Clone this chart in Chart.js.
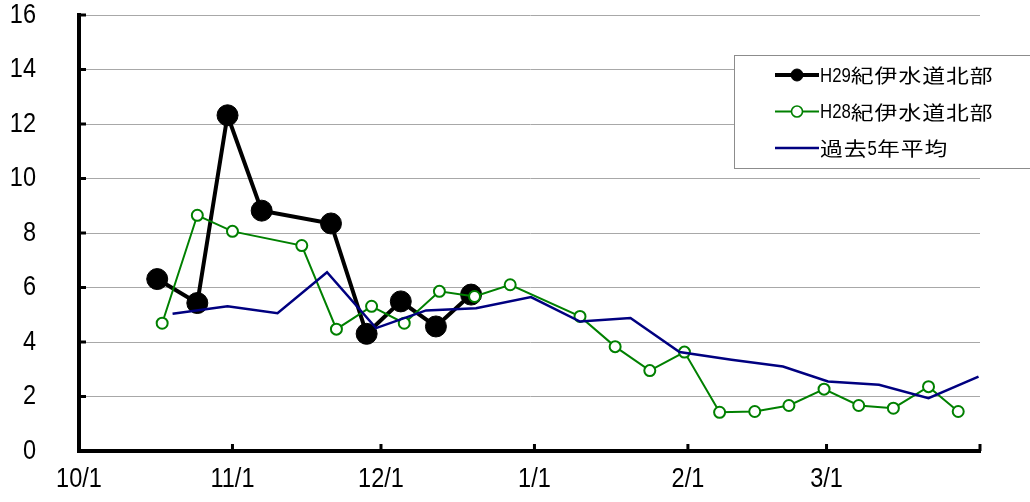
<!DOCTYPE html>
<html><head><meta charset="utf-8">
<script src="https://cdn.jsdelivr.net/npm/chart.js@4.4.1/dist/chart.umd.min.js"></script>
<style>html,body{margin:0;padding:0;background:#fff;overflow:hidden}#wrap{position:relative;width:1030px;height:502px}</style>
</head><body><div id="wrap"><canvas id="c" width="1030" height="502"></canvas></div>
<script>
// ---- data (x = days since 10/1) ----
const tickDays = [0, 31, 61, 92, 123, 151];
const tickLabels = ['10/1', '11/1', '12/1', '1/1', '2/1', '3/1'];
const axisEndDay = 182;
const yMin = 0, yMax = 16, yStep = 2;

const h29Label = 'H29紀伊水道北部';
const h29Days = [15.8, 23.9, 30.0, 36.9, 50.9, 58.1, 65.0, 72.1, 79.2];
const h29Values = [6.31, 5.43, 12.32, 8.82, 8.35, 4.30, 5.49, 4.57, 5.74];

const h28Label = 'H28紀伊水道北部';
const h28Days = [16.8, 23.9, 31.0, 45.0, 52.0, 59.1, 65.7, 72.8, 79.9, 87.1, 101.2, 108.3, 115.3, 122.3, 129.4, 136.5, 143.4, 150.5, 157.5, 164.5, 171.6, 177.6];
const h28Values = [4.69, 8.65, 8.06, 7.54, 4.47, 5.31, 4.69, 5.86, 5.67, 6.10, 4.94, 3.83, 2.95, 3.63, 1.42, 1.45, 1.67, 2.27, 1.67, 1.57, 2.36, 1.45];

const avgLabel = '過去5年平均';
const avgDays = [18.9, 30.0, 40.1, 50.1, 60.0, 70.1, 80.2, 91.3, 101.2, 111.4, 121.3, 131.8, 142.2, 151.3, 161.6, 171.6, 181.7];
const avgValues = [5.04, 5.31, 5.06, 6.56, 4.51, 5.16, 5.24, 5.65, 4.75, 4.88, 3.63, 3.35, 3.10, 2.55, 2.43, 1.94, 2.73];

const pts = (xs, ys) => xs.map((x, i) => ({x, y: ys[i]}));

const SANS = "'Liberation Sans', Arial, sans-serif";
const CJK = "'Noto Sans CJK JP', sans-serif";
const NARROW_SX = 0.84;

function drawMixed(ctx, text, x, y, asciiFont, asciiScale, cjkFont, cjkAdvance, cjkScale) {
  let cx = x;
  for (const ch of text) {
    const ascii = ch.charCodeAt(0) < 256;
    ctx.save();
    ctx.font = ascii ? asciiFont : cjkFont;
    const adv = ascii ? ctx.measureText(ch).width * asciiScale : cjkAdvance;
    ctx.translate(cx, y); ctx.scale(ascii ? asciiScale : cjkScale, 1);
    ctx.fillText(ch, 0, 0);
    ctx.restore();
    cx += adv;
  }
}

// draw the library's own tick labels horizontally condensed
const narrowLabels = {
  id: 'narrowLabels',
  beforeDraw(chart) {
    ['x', 'y'].forEach(id => {
      const s = chart.scales[id];
      if (!s || s.__wrapped) return;
      const orig = s.drawLabels;
      s.drawLabels = function (area) {
        const ctx = this.ctx;
        const of = CanvasRenderingContext2D.prototype.fillText;
        ctx.fillText = function (t, x, y) {
          this.save(); this.translate(x, y); this.scale(NARROW_SX, 1); of.call(this, t, 0, 0); this.restore();
        };
        try { orig.call(this, area); } finally { delete ctx.fillText; }
      };
      s.__wrapped = true;
    });
  }
};

const axisTicks = {
  id: 'axisTicks',
  afterDraw(chart) {
    const {ctx, chartArea: a, scales: {x, y}} = chart;
    ctx.save();
    ctx.strokeStyle = '#000'; ctx.lineWidth = 3;
    y.ticks.forEach(t => {
      const py = y.getPixelForValue(t.value);
      ctx.beginPath(); ctx.moveTo(a.left, py); ctx.lineTo(a.left + 7, py); ctx.stroke();
    });
    [...tickDays, axisEndDay].forEach(d => {
      const px = x.getPixelForValue(d);
      ctx.beginPath(); ctx.moveTo(px, a.bottom); ctx.lineTo(px, a.bottom - 7); ctx.stroke();
    });
    ctx.restore();
  }
};

const boxLegend = {
  id: 'boxLegend',
  afterDraw(chart, args, o) {
    const ctx = chart.ctx;
    ctx.save();
    ctx.fillStyle = '#fff'; ctx.strokeStyle = '#8c8c8c'; ctx.lineWidth = 1;
    ctx.fillRect(o.left, o.top, o.width, o.height);
    ctx.strokeRect(o.left + 0.5, o.top + 0.5, o.width, o.height);
    chart.data.datasets.forEach((ds, i) => {
      const ry = o.rowY[i];
      ctx.strokeStyle = ds.borderColor; ctx.lineWidth = ds.borderWidth;
      ctx.beginPath(); ctx.moveTo(o.lineX0, ry); ctx.lineTo(o.lineX1, ry); ctx.stroke();
      if (ds.pointRadius > 0) {
        ctx.beginPath(); ctx.arc((o.lineX0 + o.lineX1) / 2, ry, o.markR[i], 0, Math.PI * 2);
        ctx.fillStyle = ds.pointBackgroundColor; ctx.fill();
        ctx.lineWidth = o.markBW[i]; ctx.strokeStyle = ds.pointBorderColor; ctx.stroke();
      }
      ctx.fillStyle = '#000'; ctx.textBaseline = 'middle'; ctx.textAlign = 'left';
      drawMixed(ctx, ds.label, o.textX, ry + 1, '20px ' + SANS, NARROW_SX, '19px ' + CJK, 23.8, 1.2);
    });
    ctx.restore();
  }
};

const tickFont = {family: SANS, size: 28, lineHeight: 1};

new Chart(document.getElementById('c'), {
  type: 'line',
  data: {
    datasets: [
      {label: h29Label, data: pts(h29Days, h29Values), borderColor: '#000', borderWidth: 4,
       pointRadius: 10.5, pointBackgroundColor: '#000', pointBorderColor: '#000', pointBorderWidth: 1,
       tension: 0, order: 3},
      {label: h28Label, data: pts(h28Days, h28Values), borderColor: '#008000', borderWidth: 2,
       pointRadius: 5.5, pointBackgroundColor: '#fff', pointBorderColor: '#008000', pointBorderWidth: 2,
       tension: 0, order: 2},
      {label: avgLabel, data: pts(avgDays, avgValues), borderColor: '#000080', borderWidth: 2.5,
       pointRadius: 0, tension: 0, order: 1}
    ]
  },
  options: {
    responsive: false, animation: false,
    layout: {padding: {top: 15, right: 50, left: 0, bottom: 0}},
    plugins: {
      legend: {display: false}, tooltip: {enabled: false},
      boxLegend: {left: 734, top: 55, width: 400, height: 113, rowY: [75, 111.5, 148],
                  lineX0: 775, lineX1: 819, textX: 820, markR: [6, 5.5], markBW: [1, 1.6]}
    },
    scales: {
      x: {
        type: 'linear', min: 0, max: axisEndDay,
        afterBuildTicks: s => { s.ticks = tickDays.map(v => ({value: v})); },
        afterFit: s => { s.height = 51; s.paddingLeft = 0; s.paddingRight = 0; },
        ticks: {callback: v => { const i = tickDays.indexOf(v); return i >= 0 ? tickLabels[i] : ''; },
                font: tickFont, color: '#000', padding: 14, maxRotation: 0, autoSkip: false},
        grid: {display: true, drawOnChartArea: false, drawTicks: false},
        border: {display: true, color: '#000', width: 4}
      },
      y: {
        min: yMin, max: yMax,
        afterFit: s => { s.width = 79; s.paddingTop = 0; s.paddingBottom = 0; },
        ticks: {stepSize: yStep, font: tickFont, color: '#000', padding: 43},
        grid: {color: c => c.tick && c.tick.value === 0 ? 'rgba(0,0,0,0)' : '#a8a8a8', lineWidth: 1, drawTicks: false},
        border: {display: true, color: '#000', width: 4}
      }
    }
  },
  plugins: [narrowLabels, axisTicks, boxLegend]
});
</script></body></html>
